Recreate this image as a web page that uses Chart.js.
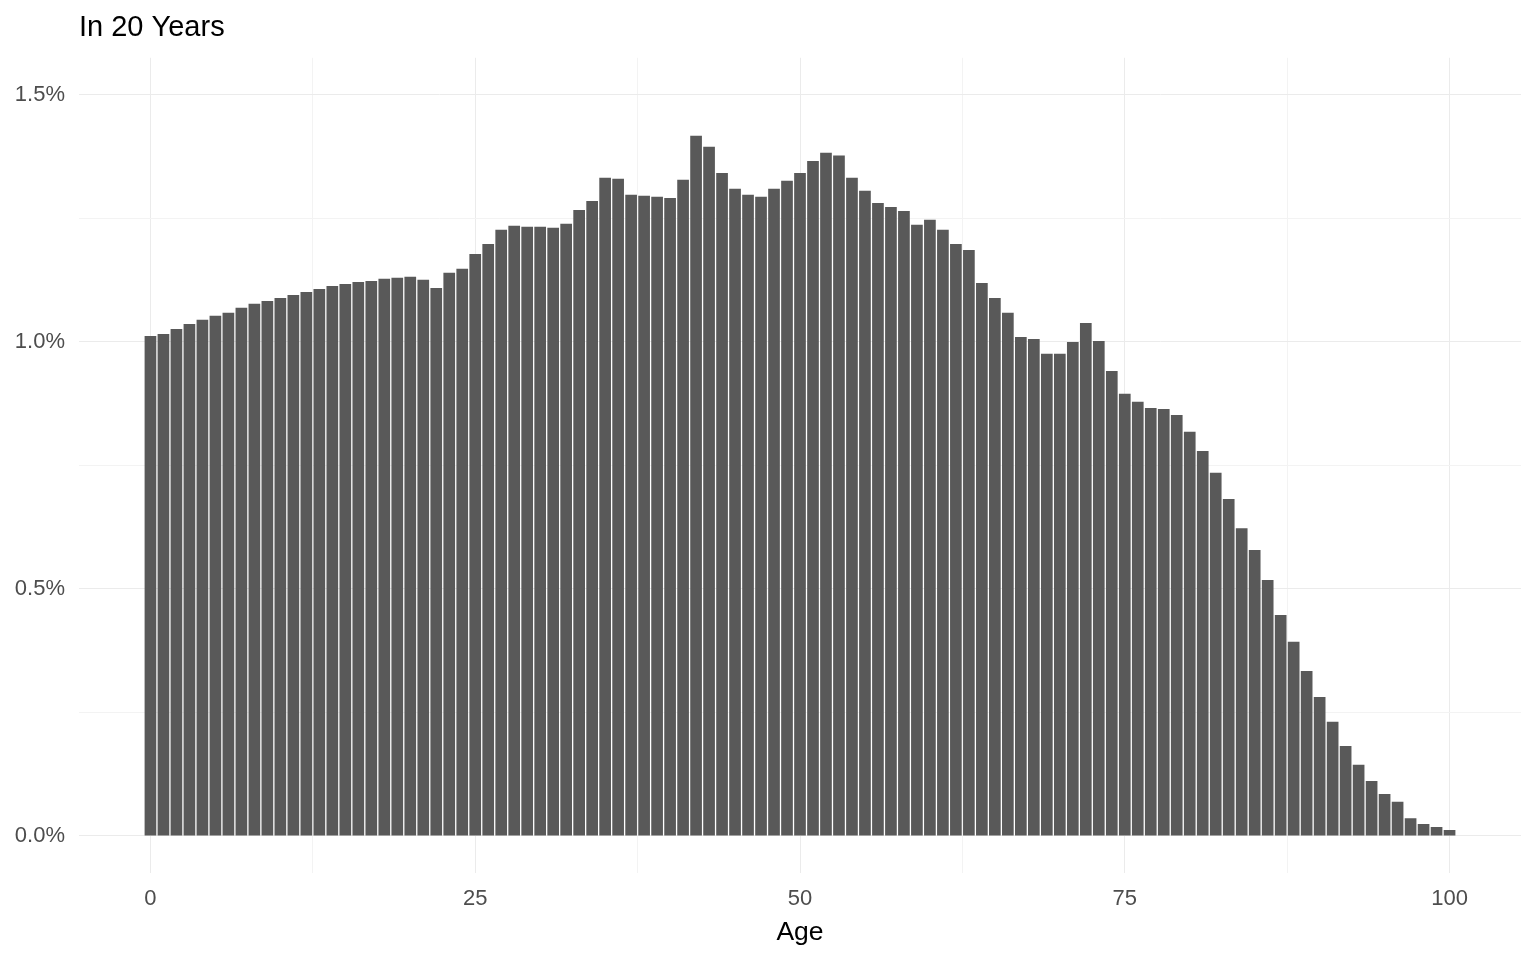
<!DOCTYPE html>
<html>
<head>
<meta charset="utf-8">
<title>In 20 Years</title>
<script src="https://cdn.jsdelivr.net/npm/chart.js@4.4.1/dist/chart.umd.min.js"></script>
<style>
    html, body { margin: 0; padding: 0; background: #fff; }
    #wrap { width: 1536px; height: 960px; }
</style>
</head>
<body>
<div id="wrap"><canvas id="ageChart" width="1536" height="960"></canvas></div>
<script>
// Age categories and share of population (in %)
const ages = Array.from({ length: 101 }, (_, i) => i);
const share = [
    1.012, 1.016, 1.026, 1.036, 1.045, 1.053, 1.059, 1.069, 1.077, 1.083,
    1.089, 1.095, 1.101, 1.107, 1.113, 1.117, 1.121, 1.123, 1.128, 1.130,
    1.132, 1.126, 1.109, 1.140, 1.148, 1.178, 1.198, 1.227, 1.235, 1.233,
    1.233, 1.231, 1.239, 1.267, 1.285, 1.332, 1.330, 1.298, 1.296, 1.294,
    1.291, 1.328, 1.417, 1.395, 1.342, 1.310, 1.298, 1.294, 1.310, 1.326,
    1.342, 1.366, 1.383, 1.377, 1.332, 1.306, 1.281, 1.273, 1.265, 1.237,
    1.247, 1.227, 1.198, 1.186, 1.119, 1.089, 1.059, 1.010, 1.006, 0.976,
    0.976, 1.000, 1.038, 1.002, 0.941, 0.895, 0.879, 0.866, 0.864, 0.852,
    0.818, 0.779, 0.735, 0.682, 0.623, 0.579, 0.518, 0.447, 0.393, 0.334,
    0.281, 0.231, 0.182, 0.144, 0.111, 0.085, 0.069, 0.036, 0.024, 0.018,
    0.012
];

// Axis ticks (major ones get labels, the others are minor grid lines)
const xMajor = [0, 25, 50, 75, 100];
const xMinor = [12.5, 37.5, 62.5, 87.5];
const yMajor = [0, 0.5, 1.0, 1.5];
const yMinor = [0.25, 0.75, 1.25];

const FONT = '"Liberation Sans", Arial, Helvetica, sans-serif';
const GRID = '#EBEBEB';
const GRID_MINOR = '#F3F3F3';

const setTicks = (major, minor) => scale => {
    scale.ticks = major.concat(minor).sort((a, b) => a - b).map(v => ({ value: v }));
};
const gridColor = major => ctx => (major.includes(ctx.tick.value) ? GRID : GRID_MINOR);

const ctx = document.getElementById('ageChart').getContext('2d');
new Chart(ctx, {
    type: 'bar',
    data: {
        datasets: [{
            data: ages.map((a, i) => ({ x: a, y: share[i] })),
            backgroundColor: '#595959',
            borderWidth: 0,
            barPercentage: 0.9,
            categoryPercentage: 1.0
        }]
    },
    options: {
        responsive: false,
        animation: false,
        layout: { padding: { left: 15, right: 15, top: 0, bottom: 0 } },
        plugins: {
            legend: { display: false },
            tooltip: { enabled: false },
            title: {
                display: true,
                text: 'In 20 Years',
                align: 'start',
                fullSize: false,
                color: '#000',
                font: { family: FONT, size: 29, weight: 'normal' },
                padding: { top: 11, bottom: 12 }
            }
        },
        scales: {
            x: {
                type: 'linear',
                min: -5.5,
                max: 105.5,
                offset: false,
                afterBuildTicks: setTicks(xMajor, xMinor),
                afterFit: s => { s.height = 87; },
                grid: { color: gridColor(xMajor), lineWidth: 1, drawTicks: false, offset: false },
                border: { display: false },
                ticks: {
                    autoSkip: false,
                    maxRotation: 0,
                    padding: 13,
                    color: '#4D4D4D',
                    font: { family: FONT, size: 22 },
                    callback: v => (xMajor.includes(v) ? String(v) : '')
                },
                title: {
                    display: true,
                    text: 'Age',
                    color: '#000',
                    font: { family: FONT, size: 26.5 },
                    padding: { top: 0, bottom: 11 }
                }
            },
            y: {
                min: -0.075,
                max: 1.575,
                afterBuildTicks: setTicks(yMajor, yMinor),
                afterFit: s => { s.width = 64; },
                grid: { color: gridColor(yMajor), lineWidth: 1, drawTicks: false },
                border: { display: false },
                ticks: {
                    autoSkip: false,
                    padding: 14,
                    color: '#4D4D4D',
                    font: { family: FONT, size: 22 },
                    callback: v => (yMajor.includes(v) ? v.toFixed(1) + '%' : '')
                }
            }
        }
    }
});
</script>
</body>
</html>
